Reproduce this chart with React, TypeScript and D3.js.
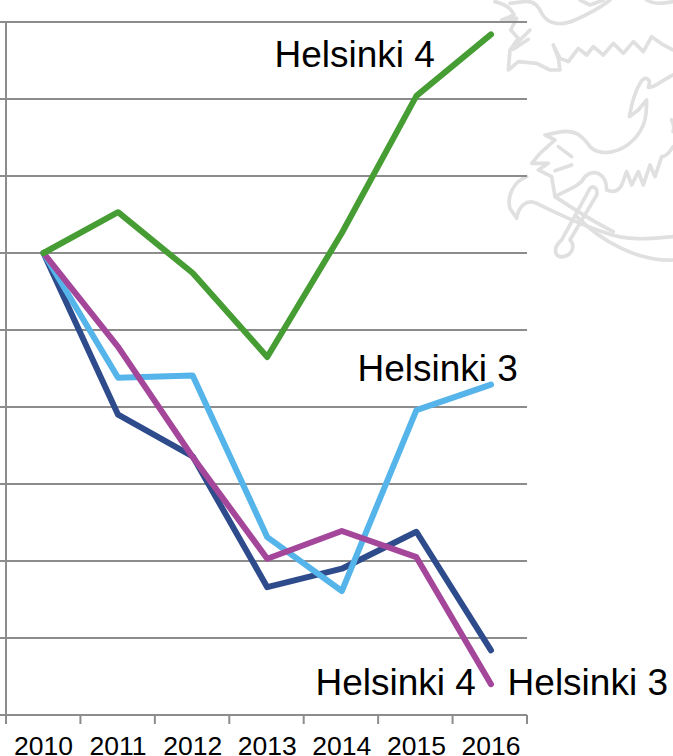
import React from "react";
import * as d3 from "d3";

const years = ["2010", "2011", "2012", "2013", "2014", "2015", "2016"];
const gridValues = [0, 1, 2, 3, 4, 5, 6, 7, 8, 9];
const helsinki4Top = [6.0, 6.53, 5.74, 4.65, 6.26, 8.04, 8.84];
const helsinki3Top = [6.0, 4.38, 4.41, 2.31, 1.61, 3.96, 4.29];
const helsinki4Bottom = [6.0, 3.9, 3.36, 1.66, 1.9, 2.38, 0.84];
const helsinki3Bottom = [6.0, 4.78, 3.35, 2.03, 2.39, 2.05, 0.4];

const series = [
  { name: "navy", values: helsinki4Bottom, color: "#2e4b8c" },
  { name: "blue", values: helsinki3Top, color: "#55b4ea" },
  { name: "purple", values: helsinki3Bottom, color: "#a4479b" },
  { name: "green", values: helsinki4Top, color: "#469d33" },
];

const labels = [
  { text: "Helsinki 4", year: "2015", value: 8.04, dx: 18.5, dy: -29 },
  { text: "Helsinki 3", year: "2015", value: 3.96, dx: 101.5, dy: -29 },
  { text: "Helsinki 4", year: "2015", value: 0.84, dx: 59.5, dy: 44.5 },
  { text: "Helsinki 3", year: "2016", value: 0.4, dx: 177, dy: 10.5 },
];

// Faint heraldic lion in the page background (drawn in zoom-crop units)
const watermark = [
  "M15,5 C40,12 62,20 72,45 L35,60 L50,62 L80,55 L62,90 L85,115 L60,150 L55,210 L85,185 L140,190 L180,210 L210,210 L205,175 L190,135 L210,175 L235,185 L265,145 L290,165 L310,140 L340,165 L370,130 L400,160 L430,125 L460,155 L485,110 L520,135 L549,150",
  "M120,90 L75,135 M115,118 L70,148",
  "M60,10 L100,5 C130,0 145,15 155,40 C175,75 215,78 255,60 C300,40 335,20 360,0",
  "M270,0 L300,15 L340,0 M470,0 C490,12 510,12 549,5",
  "M549,225 C510,245 490,265 475,262 C485,235 465,225 450,250 C435,275 425,310 418,350 L445,330 L470,300 C470,350 465,385 430,420 C390,460 330,470 300,440 C275,405 255,390 215,395 L165,405 L195,420 L150,460 L125,490 L175,490 L145,510 L185,530 L195,590 C230,570 270,560 285,530 C310,505 350,520 350,570 C400,590 400,530 410,515 L425,555 L445,515 L460,555 L480,495 L495,530 L515,470 C530,470 540,455 549,440",
  "M205,440 L245,470 M195,512 L245,495",
  "M545,360 C555,380 549,395 549,395",
  "M110,530 C70,545 50,590 60,625 L80,655 C85,620 110,595 140,610 C200,640 290,680 350,700 C420,725 490,715 549,710",
  "M195,590 C240,620 300,660 370,695 M260,650 C330,720 440,785 549,780",
  "M300,565 L215,720 C185,745 195,775 220,770 C250,765 255,735 240,720 L320,585 C325,565 310,555 300,565",
];

const xGrid = d3.scaleLinear().domain([0, 7]).range([6, 527]);
const xPoint = d3.scalePoint<string>().domain(years).range([43.5, 491]);
const y = d3.scaleLinear().domain([0, 9]).range([715, 22]);

const line = d3
  .line<number>()
  .x((_, i) => xPoint(years[i]) as number)
  .y((d) => y(d));

const FONT = "'Liberation Sans', Arial, sans-serif";
const GRID = "#8c8c8c";

export default function App() {
  return (
    <svg
      width={673}
      height={756}
      viewBox="0 0 673 756"
      style={{ position: "absolute", left: 0, top: 0, display: "block", background: "#fff" }}
      fontFamily={FONT}
    >
      <g transform="translate(490,0) scale(0.3333)" fill="none" stroke="#e0e0e0" strokeWidth={11} strokeLinejoin="round" strokeLinecap="round">
        {watermark.map((d, i) => (
          <path key={i} d={d} />
        ))}
      </g>
      {gridValues.map((v) => (
        <line key={v} x1={0} x2={527} y1={y(v)} y2={y(v)} stroke={GRID} strokeWidth={2} />
      ))}
      <line x1={6} x2={6} y1={22} y2={724} stroke={GRID} strokeWidth={2} />
      {d3.range(0, 8).map((i) => (
        <line key={i} x1={xGrid(i)} x2={xGrid(i)} y1={715} y2={724} stroke={GRID} strokeWidth={2} />
      ))}
      {series.map((s) => (
        <path
          key={s.name}
          d={line(s.values) as string}
          fill="none"
          stroke={s.color}
          strokeWidth={6}
          strokeLinejoin="round"
          strokeLinecap="round"
        />
      ))}
      {years.map((yr) => (
        <text key={yr} x={xPoint(yr) as number} y={754.5} textAnchor="middle" fontSize={26.5} fill="#000">
          {yr}
        </text>
      ))}
      {labels.map((l, i) => (
        <text
          key={i}
          x={(xPoint(l.year) as number) + l.dx}
          y={y(l.value) + l.dy}
          textAnchor="end"
          fontSize={37}
          fill="#000"
        >
          {l.text}
        </text>
      ))}
    </svg>
  );
}
